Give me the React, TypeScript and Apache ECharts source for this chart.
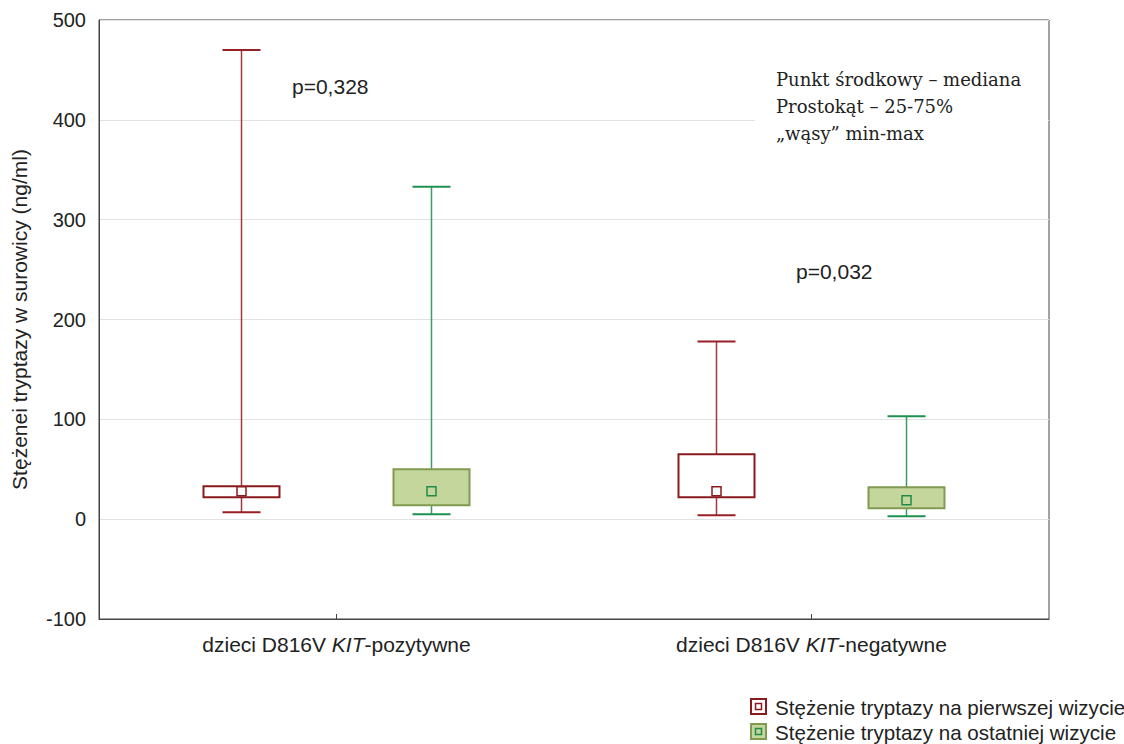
import React, { useEffect, useRef } from "react";
import * as echarts from "echarts";

const categories = ["dzieci D816V KIT-pozytywne", "dzieci D816V KIT-negatywne"];
const italicPart = "KIT";

const seriesNames = [
  "Stężenie tryptazy na pierwszej wizycie",
  "Stężenie tryptazy na ostatniej wizycie",
];

// first visit
const firstMin = [7, 4];
const firstQ1 = [22, 22];
const firstMedian = [28, 28];
const firstQ3 = [33, 65];
const firstMax = [470, 178];

// last visit
const lastMin = [5, 3];
const lastQ1 = [14, 11];
const lastMedian = [28, 19];
const lastQ3 = [50, 32];
const lastMax = [333, 103];

const yTicks = { min: -100, max: 500, interval: 100 };
const yAxisName = "Stężenei tryptazy w surowicy (ng/ml)";
const pValues = ["p=0,328", "p=0,032"];
const noteLines = ["Punkt środkowy – mediana", "Prostokąt – 25-75%", "„wąsy” min-max"];

const SANS = "'Liberation Sans', Arial, sans-serif";
const SERIF = "'DejaVu Serif', serif";

const styles = [
  {
    boxStroke: "#8b1a1e",
    boxFill: "#ffffff",
    whisker: "#a2383c",
    cap: "#9a1f24",
    medStroke: "#8b1a1e",
    medFill: "#ffffff",
    offset: -0.2,
  },
  {
    boxStroke: "#809a52",
    boxFill: "#c4d69b",
    whisker: "#3a9e64",
    cap: "#1f9050",
    medStroke: "#1e8c48",
    medFill: "#c4d69b",
    offset: 0.2,
  },
];

function buildData(mins: number[], q1: number[], med: number[], q3: number[], max: number[]) {
  return categories.map((_, i) => [i, mins[i], q1[i], med[i], q3[i], max[i]]);
}

function makeRender(st: (typeof styles)[number]) {
  return (params: any, api: any) => {
    const cat = api.value(0);
    const band = api.size([1, 0])[0];
    const cx = api.coord([cat, 0])[0] + st.offset * band;
    const y = (v: number) => api.coord([cat, v])[1];
    const yMin = y(api.value(1));
    const yQ1 = y(api.value(2));
    const yMed = y(api.value(3));
    const yQ3 = y(api.value(4));
    const yMax = y(api.value(5));
    const bw = band * 0.16;
    const cw = band * 0.08;
    const ms = 9;
    return {
      type: "group",
      children: [
        { type: "line", shape: { x1: cx, y1: yMax, x2: cx, y2: yQ3 }, style: { stroke: st.whisker, lineWidth: 1.5 } },
        { type: "line", shape: { x1: cx, y1: yQ1, x2: cx, y2: yMin }, style: { stroke: st.whisker, lineWidth: 1.5 } },
        { type: "line", shape: { x1: cx - cw / 2, y1: yMax, x2: cx + cw / 2, y2: yMax }, style: { stroke: st.cap, lineWidth: 2 } },
        { type: "line", shape: { x1: cx - cw / 2, y1: yMin, x2: cx + cw / 2, y2: yMin }, style: { stroke: st.cap, lineWidth: 2 } },
        {
          type: "rect",
          shape: { x: cx - bw / 2, y: yQ3, width: bw, height: yQ1 - yQ3 },
          style: { fill: st.boxFill, stroke: st.boxStroke, lineWidth: 2 },
        },
        {
          type: "rect",
          shape: { x: cx - ms / 2, y: yMed - ms / 2, width: ms, height: ms },
          style: { fill: st.medFill, stroke: st.medStroke, lineWidth: 1.5 },
        },
      ],
    };
  };
}

export default function App() {
  const ref = useRef<HTMLDivElement>(null);
  useEffect(() => {
    if (!ref.current) return;
    const chart = echarts.init(ref.current, null, { renderer: "svg" });
    const legendY = [707, 732];
    chart.setOption({
      animation: false,
      backgroundColor: "#ffffff",
      grid: {
        left: 99,
        right: 75,
        top: 20,
        bottom: 125,
        show: true,
        borderColor: "#444",
        borderWidth: 1,
      },
      xAxis: {
        type: "category",
        data: categories,
        axisLine: { onZero: false, lineStyle: { color: "#444", width: 1 } },
        axisTick: { show: true, inside: true, alignWithLabel: true, length: 5, lineStyle: { color: "#444" } },
        splitLine: { show: false },
        axisLabel: {
          margin: 15,
          formatter: (v: string) => {
            const [a, b] = v.split(italicPart);
            return `{n|${a}}{i|${italicPart}}{n|${b}}`;
          },
          rich: {
            n: { fontFamily: SANS, fontSize: 21, color: "#222" },
            i: { fontFamily: SANS, fontSize: 21, color: "#222", fontStyle: "italic" },
          },
        },
      },
      yAxis: {
        type: "value",
        min: yTicks.min,
        max: yTicks.max,
        interval: yTicks.interval,
        name: yAxisName,
        nameLocation: "middle",
        nameGap: 69,
        nameTextStyle: { fontFamily: SANS, fontSize: 21, color: "#222" },
        axisLine: { show: true, onZero: false, lineStyle: { color: "#444", width: 1 } },
        axisTick: { show: false },
        axisLabel: { fontFamily: SANS, fontSize: 20, color: "#222", margin: 13 },
        splitLine: { show: true, lineStyle: { color: "#e2e2e2", width: 1 } },
      },
      graphic: [
        { type: "rect", z: 1, shape: { x: 755, y: 62, width: 293, height: 90 }, style: { fill: "#ffffff" } },
        {
          type: "text",
          z: 3,
          x: 776,
          y: 66,
          style: {
            text: noteLines.join("\n"),
            font: `18px ${SERIF}`,
            lineHeight: 27,
            fill: "#222",
            verticalAlign: "top",
          },
        },
        { type: "text", z: 3, x: 292, y: 86, style: { text: pValues[0], font: `21px ${SANS}`, fill: "#222", verticalAlign: "middle" } },
        { type: "text", z: 3, x: 796, y: 271, style: { text: pValues[1], font: `21px ${SANS}`, fill: "#222", verticalAlign: "middle" } },
        ...seriesNames.flatMap((name, i) => {
          const st = styles[i];
          const cy = legendY[i];
          return [
            { type: "rect", z: 3, shape: { x: 751, y: cy - 8, width: 15, height: 15 }, style: { fill: st.boxFill, stroke: st.boxStroke, lineWidth: 2 } },
            { type: "rect", z: 4, shape: { x: 755.5, y: cy - 3.5, width: 6, height: 6 }, style: { fill: st.medFill, stroke: st.medStroke, lineWidth: 1.5 } },
            { type: "text", z: 3, x: 775, y: cy, style: { text: name, font: `20.6px ${SANS}`, fill: "#222", verticalAlign: "middle" } },
          ];
        }),
      ],
      series: [
        {
          name: seriesNames[0],
          type: "custom",
          z: 5,
          clip: false,
          encode: { x: 0, y: [1, 2, 3, 4, 5] },
          renderItem: makeRender(styles[0]),
          data: buildData(firstMin, firstQ1, firstMedian, firstQ3, firstMax),
        },
        {
          name: seriesNames[1],
          type: "custom",
          z: 5,
          clip: false,
          encode: { x: 0, y: [1, 2, 3, 4, 5] },
          renderItem: makeRender(styles[1]),
          data: buildData(lastMin, lastQ1, lastMedian, lastQ3, lastMax),
        },
      ],
    });
    return () => chart.dispose();
  }, []);
  return (
    <div
      ref={ref}
      style={{ position: "fixed", left: 0, top: 0, width: 1124, height: 744, background: "#fff" }}
    />
  );
}
